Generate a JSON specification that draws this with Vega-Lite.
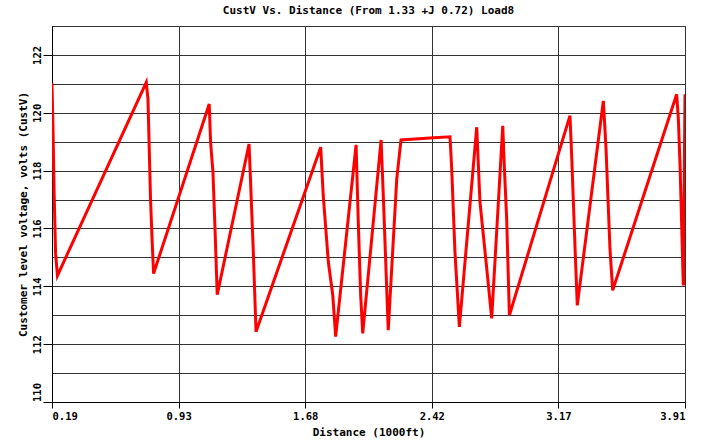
{
  "$schema": "https://vega.github.io/schema/vega-lite/v6.json",
  "autosize": "none",
  "width": 633,
  "height": 376,
  "padding": {"left": 52, "top": 26, "right": 25, "bottom": 38},
  "background": "white",
  "title": {
    "text": "CustV Vs. Distance (From 1.33 +J 0.72) Load8",
    "font": "DejaVu Sans Mono",
    "fontSize": 11,
    "fontWeight": "bold",
    "color": "black",
    "anchor": "middle",
    "offset": 10
  },
  "config": {
    "view": {"stroke": "black", "strokeWidth": 1},
    "axis": {
      "labelFont": "DejaVu Sans Mono",
      "labelFontWeight": "bold",
      "labelFontSize": 10.5,
      "labelColor": "black",
      "titleFont": "DejaVu Sans Mono",
      "titleFontWeight": "bold",
      "titleFontSize": 11,
      "titleColor": "black",
      "domainColor": "black",
      "tickColor": "black",
      "gridColor": "#333333",
      "gridOpacity": 1,
      "gridWidth": 1
    }
  },
  "data": {
    "values": [
      {"i": 1, "d": 0.190, "v": 121.02},
      {"i": 2, "d": 0.196, "v": 119.40},
      {"i": 3, "d": 0.202, "v": 117.37},
      {"i": 4, "d": 0.211, "v": 115.13},
      {"i": 5, "d": 0.222, "v": 114.37},
      {"i": 6, "d": 0.744, "v": 121.05},
      {"i": 7, "d": 0.754, "v": 120.47},
      {"i": 8, "d": 0.769, "v": 117.02},
      {"i": 9, "d": 0.778, "v": 115.64},
      {"i": 10, "d": 0.787, "v": 114.44},
      {"i": 11, "d": 1.114, "v": 120.30},
      {"i": 12, "d": 1.122, "v": 118.98},
      {"i": 13, "d": 1.136, "v": 117.94},
      {"i": 14, "d": 1.148, "v": 115.99},
      {"i": 15, "d": 1.161, "v": 113.71},
      {"i": 16, "d": 1.348, "v": 118.92},
      {"i": 17, "d": 1.354, "v": 118.06},
      {"i": 18, "d": 1.373, "v": 115.20},
      {"i": 19, "d": 1.389, "v": 112.43},
      {"i": 20, "d": 1.769, "v": 118.81},
      {"i": 21, "d": 1.784, "v": 117.14},
      {"i": 22, "d": 1.814, "v": 114.84},
      {"i": 23, "d": 1.840, "v": 113.69},
      {"i": 24, "d": 1.857, "v": 112.26},
      {"i": 25, "d": 1.977, "v": 118.89},
      {"i": 26, "d": 1.990, "v": 116.22},
      {"i": 27, "d": 2.004, "v": 113.69},
      {"i": 28, "d": 2.016, "v": 112.37},
      {"i": 29, "d": 2.124, "v": 119.06},
      {"i": 30, "d": 2.137, "v": 117.14},
      {"i": 31, "d": 2.157, "v": 113.92},
      {"i": 32, "d": 2.166, "v": 112.48},
      {"i": 33, "d": 2.216, "v": 117.71},
      {"i": 34, "d": 2.241, "v": 119.06},
      {"i": 35, "d": 2.411, "v": 119.13},
      {"i": 36, "d": 2.529, "v": 119.17},
      {"i": 37, "d": 2.539, "v": 118.06},
      {"i": 38, "d": 2.558, "v": 115.19},
      {"i": 39, "d": 2.572, "v": 113.81},
      {"i": 40, "d": 2.584, "v": 112.60},
      {"i": 41, "d": 2.686, "v": 119.50},
      {"i": 42, "d": 2.705, "v": 116.92},
      {"i": 43, "d": 2.745, "v": 114.61},
      {"i": 44, "d": 2.774, "v": 112.89},
      {"i": 45, "d": 2.839, "v": 119.55},
      {"i": 46, "d": 2.848, "v": 118.17},
      {"i": 47, "d": 2.862, "v": 116.33},
      {"i": 48, "d": 2.878, "v": 113.00},
      {"i": 49, "d": 3.234, "v": 119.90},
      {"i": 50, "d": 3.244, "v": 118.52},
      {"i": 51, "d": 3.264, "v": 115.30},
      {"i": 52, "d": 3.277, "v": 113.34},
      {"i": 53, "d": 3.430, "v": 120.41},
      {"i": 54, "d": 3.446, "v": 118.75},
      {"i": 55, "d": 3.469, "v": 115.30},
      {"i": 56, "d": 3.485, "v": 113.86},
      {"i": 57, "d": 3.861, "v": 120.64},
      {"i": 58, "d": 3.871, "v": 119.78},
      {"i": 59, "d": 3.881, "v": 118.17},
      {"i": 60, "d": 3.891, "v": 115.99},
      {"i": 61, "d": 3.900, "v": 114.03},
      {"i": 62, "d": 3.910, "v": 120.64},
      {"i": 63, "d": 3.910, "v": 114.03}
    ]
  },
  "mark": {"type": "line", "color": "#ff0000", "strokeWidth": 3, "strokeJoin": "miter", "clip": true},
  "encoding": {
    "x": {
      "field": "d",
      "type": "quantitative",
      "scale": {"domain": [0.19, 3.91], "nice": false, "zero": false},
      "axis": {
        "title": "Distance (1000ft)",
        "values": [0.19, 0.934, 1.678, 2.422, 3.166, 3.91],
        "format": ".2f",
        "labelFlush": true,
        "tickSize": 6,
        "labelPadding": 3,
        "titlePadding": 5,
        "grid": true
      }
    },
    "y": {
      "field": "v",
      "type": "quantitative",
      "scale": {"domain": [110, 123], "nice": false, "zero": false},
      "axis": {
        "title": "Customer level voltage, volts  (CustV)",
        "values": [110, 111, 112, 113, 114, 115, 116, 117, 118, 119, 120, 121, 122, 123],
        "labelExpr": "datum.value % 2 == 0 && datum.value < 123 ? datum.label : ''",
        "labelAngle": -90,
        "labelAlign": "center",
        "labelBaseline": "bottom",
        "labelFlush": false,
        "labelOffset": {"condition": {"test": "datum.value == 110", "value": -10}, "value": 0},
        "tickOpacity": {"condition": {"test": "datum.value % 2 == 0 && datum.value < 123", "value": 1}, "value": 0},
        "tickSize": 9,
        "labelPadding": 1,
        "titlePadding": 4,
        "grid": true
      }
    },
    "order": {"field": "i", "type": "quantitative"}
  }
}
